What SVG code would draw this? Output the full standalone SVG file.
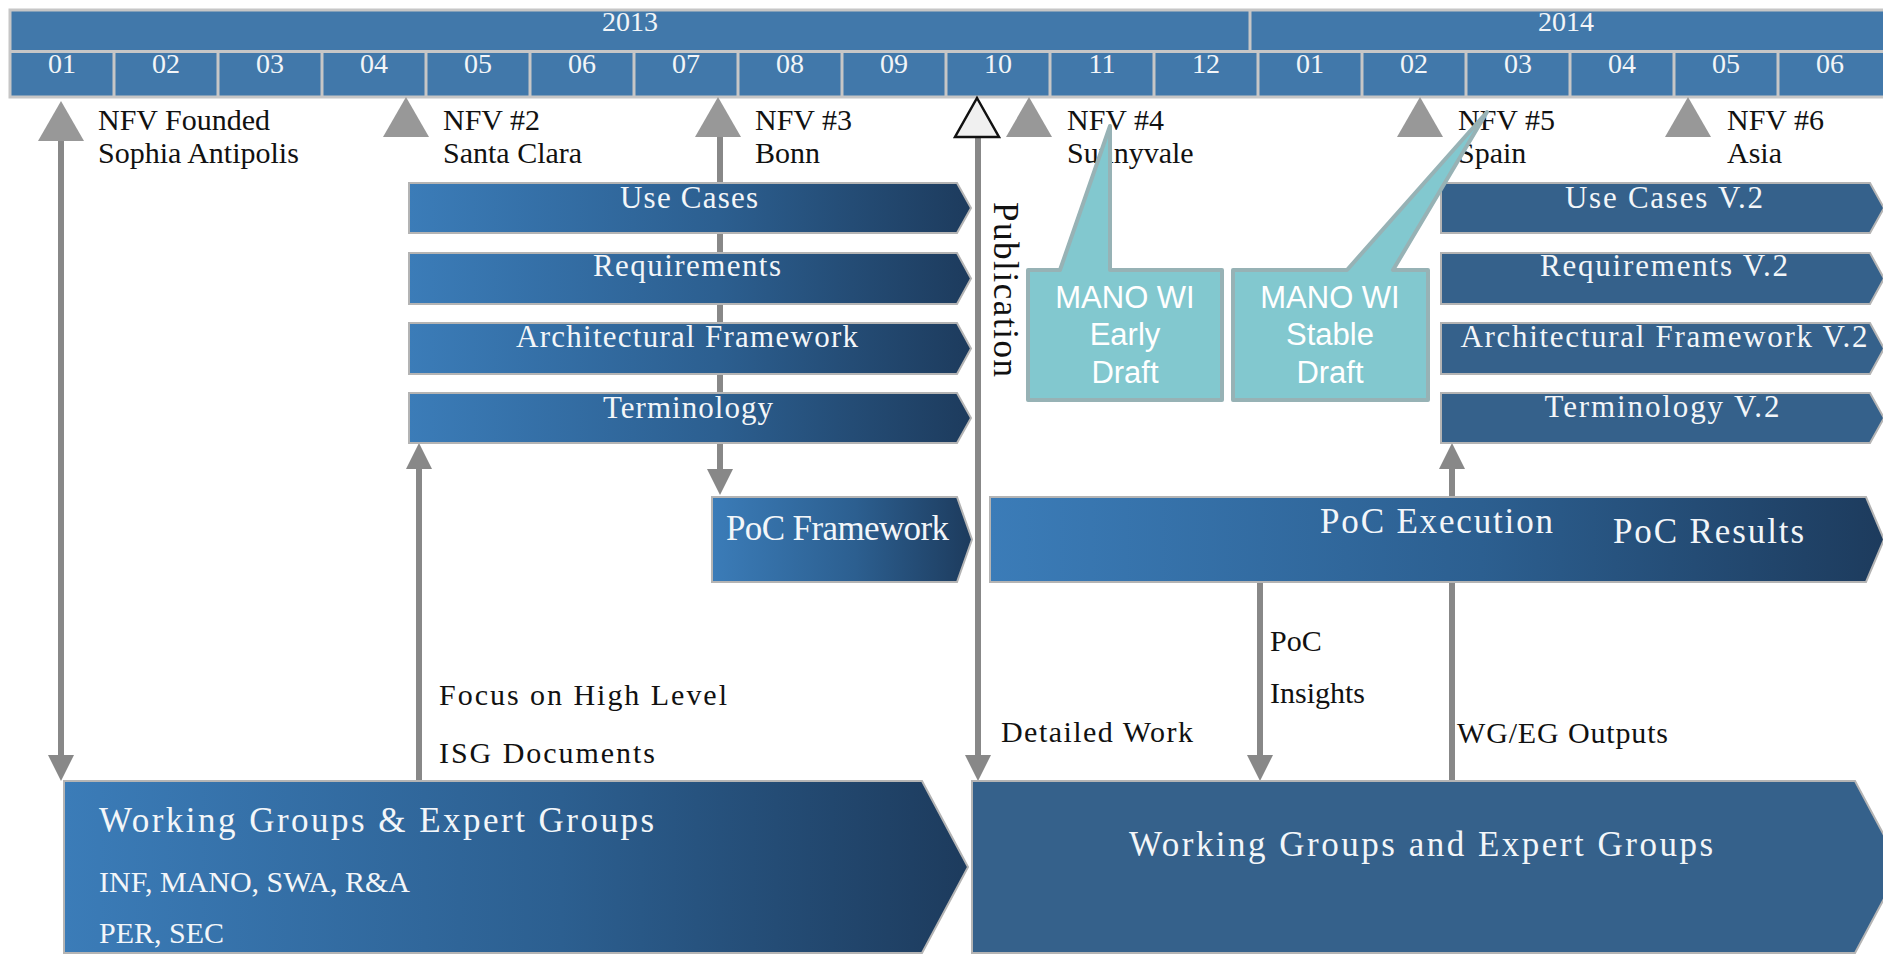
<svg xmlns="http://www.w3.org/2000/svg" xmlns:xlink="http://www.w3.org/1999/xlink" width="1883" height="954" viewBox="0 0 1883 954">
  <defs>
    <linearGradient id="blueFade" x1="0" y1="0" x2="1" y2="0">
      <stop offset="0" stop-color="#3b7cb8"/>
      <stop offset="0.55" stop-color="#2c5f90"/>
      <stop offset="1" stop-color="#1d3b5d"/>
    </linearGradient>
    <marker id="arrow" viewBox="0 0 26 26" refX="12" refY="13" markerWidth="26" markerHeight="26" markerUnits="userSpaceOnUse" orient="auto">
      <path d="M0,0 L26,13 L0,26 Z" fill="#888888"/>
    </marker>
    <path id="milestone" d="M0,0 L23,40 L-23,40 Z"/>
    <style>
      text { font-family: "Liberation Serif", "DejaVu Serif", serif; }
      .month { font-size: 28px; fill: #f2f5f8; text-anchor: middle; }
      .year { font-size: 28px; fill: #f2f5f8; text-anchor: middle; }
      .lbl { font-size: 30px; fill: #111111; }
      .bar-txt { font-size: 31px; fill: #f3f6f9; text-anchor: middle; }
      .big-txt { font-size: 35px; fill: #f3f6f9; }
      .callout-txt { font-family: "Liberation Sans", Arial, sans-serif; font-size: 31px; fill: #ffffff; text-anchor: middle; }
      .grad-bar { fill: url(#blueFade); stroke: #b4b4b4; stroke-width: 2; }
      .flat-bar { fill: #35618b; stroke: #b4b4b4; stroke-width: 2; }
      .tri { fill: #989898; }
      .conn { stroke: #888888; stroke-width: 6; fill: none; }
      .callout { fill: #82c8cf; stroke: #97b2b5; stroke-width: 4; stroke-linejoin: round; }
    </style>
  </defs>

  <rect width="1883" height="954" fill="#ffffff"/>

  <!-- timeline header: years and months -->
  <g id="timeline-header">
    <rect x="10" y="10" width="1880" height="87" fill="#4178aa" stroke="#c6c6c6" stroke-width="3"/>
    <line x1="10" y1="51.5" x2="1883" y2="51.5" stroke="#c6c6c6" stroke-width="3"/>
    <line x1="1250" y1="10" x2="1250" y2="51" stroke="#c6c6c6" stroke-width="3"/>
    <g stroke="#c6c6c6" stroke-width="3">
      <line x1="114" y1="51" x2="114" y2="97"/>
      <line x1="218" y1="51" x2="218" y2="97"/>
      <line x1="322" y1="51" x2="322" y2="97"/>
      <line x1="426" y1="51" x2="426" y2="97"/>
      <line x1="530" y1="51" x2="530" y2="97"/>
      <line x1="634" y1="51" x2="634" y2="97"/>
      <line x1="738" y1="51" x2="738" y2="97"/>
      <line x1="842" y1="51" x2="842" y2="97"/>
      <line x1="946" y1="51" x2="946" y2="97"/>
      <line x1="1050" y1="51" x2="1050" y2="97"/>
      <line x1="1154" y1="51" x2="1154" y2="97"/>
      <line x1="1258" y1="51" x2="1258" y2="97"/>
      <line x1="1362" y1="51" x2="1362" y2="97"/>
      <line x1="1466" y1="51" x2="1466" y2="97"/>
      <line x1="1570" y1="51" x2="1570" y2="97"/>
      <line x1="1674" y1="51" x2="1674" y2="97"/>
      <line x1="1778" y1="51" x2="1778" y2="97"/>
    </g>
    <text class="year" x="630" y="31">2013</text>
    <text class="year" x="1566" y="31">2014</text>
    <text class="month" x="62" y="73">01</text>
    <text class="month" x="166" y="73">02</text>
    <text class="month" x="270" y="73">03</text>
    <text class="month" x="374" y="73">04</text>
    <text class="month" x="478" y="73">05</text>
    <text class="month" x="582" y="73">06</text>
    <text class="month" x="686" y="73">07</text>
    <text class="month" x="790" y="73">08</text>
    <text class="month" x="894" y="73">09</text>
    <text class="month" x="998" y="73">10</text>
    <text class="month" x="1102" y="73">11</text>
    <text class="month" x="1206" y="73">12</text>
    <text class="month" x="1310" y="73">01</text>
    <text class="month" x="1414" y="73">02</text>
    <text class="month" x="1518" y="73">03</text>
    <text class="month" x="1622" y="73">04</text>
    <text class="month" x="1726" y="73">05</text>
    <text class="month" x="1830" y="73">06</text>
  </g>

  <!-- connectors between milestones, work items and groups -->
  <g id="connectors">
    <line class="conn" x1="61" y1="135" x2="61" y2="767" marker-end="url(#arrow)"/>
    <line class="conn" x1="419" y1="781" x2="419" y2="457" marker-end="url(#arrow)"/>
    <line class="conn" x1="720" y1="135" x2="720" y2="481" marker-end="url(#arrow)"/>
    <line class="conn" x1="978" y1="135" x2="978" y2="767" marker-end="url(#arrow)"/>
    <line class="conn" x1="1260" y1="582" x2="1260" y2="767" marker-end="url(#arrow)"/>
    <line class="conn" x1="1452" y1="781" x2="1452" y2="457" marker-end="url(#arrow)"/>
  </g>

  <!-- milestone markers -->
  <g id="milestones">
    <use xlink:href="#milestone" class="tri" x="61" y="101"/>
    <use xlink:href="#milestone" class="tri" x="406" y="97"/>
    <use xlink:href="#milestone" class="tri" x="718" y="97"/>
    <path d="M977,98 L999,137 L955,137 Z" fill="#f0f0f0" stroke="#111111" stroke-width="2.5" stroke-linejoin="miter"/>
    <use xlink:href="#milestone" class="tri" x="1029" y="97"/>
    <use xlink:href="#milestone" class="tri" x="1420" y="97"/>
    <use xlink:href="#milestone" class="tri" x="1688" y="97"/>
  </g>

  <g id="meeting-labels">
    <text class="lbl" x="98" y="130">NFV Founded</text>
    <text class="lbl" x="98" y="163">Sophia Antipolis</text>
    <text class="lbl" x="443" y="130">NFV #2</text>
    <text class="lbl" x="443" y="163">Santa Clara</text>
    <text class="lbl" x="755" y="130">NFV #3</text>
    <text class="lbl" x="755" y="163">Bonn</text>
    <text class="lbl" x="1067" y="130">NFV #4</text>
    <text class="lbl" x="1067" y="163">Sunnyvale</text>
    <text class="lbl" x="1458" y="130">NFV #5</text>
    <text class="lbl" x="1458" y="163">Spain</text>
    <text class="lbl" x="1727" y="130">NFV #6</text>
    <text class="lbl" x="1727" y="163">Asia</text>
  </g>

  <!-- first-phase ISG documents -->
  <g id="use-cases">
    <path class="grad-bar" d="M409,183 H957 L971,208 L957,233 H409 Z"/>
    <text class="bar-txt" x="689" y="208" textLength="138" lengthAdjust="spacing">Use Cases</text>
  </g>
  <g id="requirements">
    <path class="grad-bar" d="M409,253 H957 L971,278.5 L957,304 H409 Z"/>
    <text class="bar-txt" x="687" y="276" textLength="188" lengthAdjust="spacing">Requirements</text>
  </g>
  <g id="architectural-framework">
    <path class="grad-bar" d="M409,323 H957 L971,348.5 L957,374 H409 Z"/>
    <text class="bar-txt" x="687" y="347" textLength="342" lengthAdjust="spacing">Architectural Framework</text>
  </g>
  <g id="terminology">
    <path class="grad-bar" d="M409,393 H957 L971,418 L957,443 H409 Z"/>
    <text class="bar-txt" x="688" y="418" textLength="170" lengthAdjust="spacing">Terminology</text>
  </g>
  <g id="poc-framework">
    <path class="grad-bar" d="M712,497 H957 L972,539.5 L957,582 H712 Z"/>
    <text class="big-txt" x="726" y="540" textLength="223" lengthAdjust="spacing">PoC Framework</text>
  </g>
  <g id="poc-execution">
    <path class="grad-bar" d="M990,497 H1866 L1884,539.5 L1866,582 H990 Z"/>
    <text class="big-txt" x="1320" y="533" textLength="233" lengthAdjust="spacing">PoC Execution</text>
    <text class="big-txt" x="1613" y="543" textLength="191" lengthAdjust="spacing">PoC Results</text>
  </g>

  <!-- second-release documents -->
  <g id="use-cases-v2">
    <path class="flat-bar" d="M1441,183 H1870 L1884,208 L1870,233 H1441 Z"/>
    <text class="bar-txt" x="1664" y="208" textLength="198" lengthAdjust="spacing">Use Cases V.2</text>
  </g>
  <g id="requirements-v2">
    <path class="flat-bar" d="M1441,253 H1870 L1884,278.5 L1870,304 H1441 Z"/>
    <text class="bar-txt" x="1664" y="276" textLength="248" lengthAdjust="spacing">Requirements V.2</text>
  </g>
  <g id="architectural-framework-v2">
    <path class="flat-bar" d="M1441,323 H1870 L1884,348.5 L1870,374 H1441 Z"/>
    <text class="bar-txt" x="1664" y="347" textLength="407" lengthAdjust="spacing">Architectural Framework V.2</text>
  </g>
  <g id="terminology-v2">
    <path class="flat-bar" d="M1441,393 H1870 L1884,418 L1870,443 H1441 Z"/>
    <text class="bar-txt" x="1662" y="417" textLength="235" lengthAdjust="spacing">Terminology V.2</text>
  </g>

  <!-- working group blocks -->
  <g id="working-groups-2013">
    <path class="grad-bar" d="M64,781 H922 L968,867 L922,953 H64 Z"/>
    <text class="big-txt" x="99" y="832" font-size="36" textLength="555" lengthAdjust="spacing">Working Groups &amp; Expert Groups</text>
    <text class="big-txt" x="99" y="892" style="font-size:30px">INF, MANO, SWA, R&amp;A</text>
    <text class="big-txt" x="99" y="943" style="font-size:30px">PER, SEC</text>
  </g>
  <g id="working-groups-2014">
    <path class="flat-bar" d="M972,781 H1855 L1901,867 L1855,953 H972 Z"/>
    <text class="big-txt" x="1129" y="856" textLength="584" lengthAdjust="spacing">Working Groups and Expert Groups</text>
  </g>

  <!-- connector labels -->
  <g id="flow-labels">
    <text class="lbl" transform="translate(994,202) rotate(90)" style="font-size:35px" textLength="175" lengthAdjust="spacing">Publication</text>
    <text class="lbl" x="439" y="705" textLength="288" lengthAdjust="spacing">Focus on High Level</text>
    <text class="lbl" x="439" y="763" textLength="216" lengthAdjust="spacing">ISG Documents</text>
    <text class="lbl" x="1001" y="742" textLength="192" lengthAdjust="spacing">Detailed Work</text>
    <text class="lbl" x="1270" y="651">PoC</text>
    <text class="lbl" x="1270" y="703">Insights</text>
    <text class="lbl" x="1457" y="743" textLength="211" lengthAdjust="spacing">WG/EG Outputs</text>
  </g>

  <!-- MANO work item callouts -->
  <g id="mano-early-draft">
    <path class="callout" d="M1028,270 H1060 L1110,126 V270 H1222 V400 H1028 Z"/>
    <text class="callout-txt" x="1125" y="308">MANO WI</text>
    <text class="callout-txt" x="1125" y="345">Early</text>
    <text class="callout-txt" x="1125" y="383">Draft</text>
  </g>
  <g id="mano-stable-draft">
    <path class="callout" d="M1233,270 H1347 L1487,112 L1393,270 H1428 V400 H1233 Z"/>
    <text class="callout-txt" x="1330" y="308">MANO WI</text>
    <text class="callout-txt" x="1330" y="345">Stable</text>
    <text class="callout-txt" x="1330" y="383">Draft</text>
  </g>
</svg>
